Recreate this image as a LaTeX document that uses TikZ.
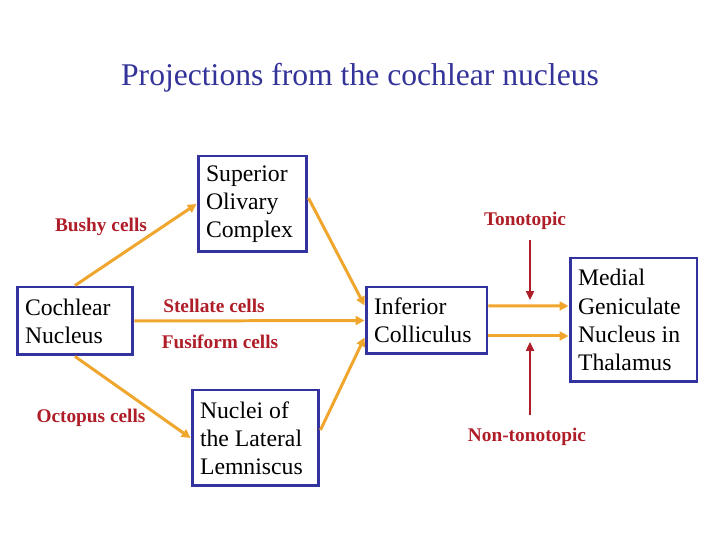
\documentclass[tikz,border=0pt]{standalone}
\usepackage{fontspec}
\setmainfont{Liberation Serif}
\usepackage{xcolor}
\usepackage{tikz}
\usetikzlibrary{arrows.meta,calc}
\definecolor{titleblue}{RGB}{51,51,153}
\definecolor{boxblue}{RGB}{51,51,160}
\definecolor{cellred}{RGB}{175,30,40}
\definecolor{pathorange}{RGB}{240,165,45}

\begin{document}
\begin{tikzpicture}[x=0.02cm,y=0.02cm,
    nucleus/.style={draw=boxblue,line width=1.7pt,align=flush left,inner xsep=0.16cm,
      font=\fontsize{13.5}{16}\selectfont},
    celltype/.style={text=cellred,font=\fontsize{11}{13}\selectfont\bfseries},
    proj/.style={draw=pathorange,line width=1.7pt,-{Triangle[length=5pt,width=5pt]}},
    topo/.style={draw=cellred,line width=1.1pt,-{Triangle[length=5pt,width=4.5pt]}}]
            \useasboundingbox (0,0) rectangle (720,540);
            \node[text=titleblue,font=\fontsize{18}{22}\selectfont] (title) at (360,462) {Projections from the cochlear nucleus};
            % nuclei
            \node[nucleus,text width=2cm,minimum height=1.36cm] (cn) at (75,219) {Cochlear\\Nucleus};
            \node[nucleus,text width=1.86cm,minimum height=1.92cm] (soc) at (252.5,336) {Superior\\Olivary\\Complex};
            \node[nucleus,text width=2.22cm,minimum height=1.92cm] (nll) at (255.5,102) {Nuclei of\\the Lateral\\Lemniscus};
            \node[nucleus,text width=2.1cm,minimum height=1.34cm] (ic) at (426.5,219.5) {Inferior\\Colliculus};
            \node[nucleus,text width=2.22cm,minimum height=2.48cm] (mgn) at (633.5,220) {Medial\\Geniculate\\Nucleus in\\Thalamus};
            % cell types
            \node[celltype] (bushy) at (101,313) {Bushy cells};
            \node[celltype] (stellate) at (214,234) {Stellate cells};
            \node[celltype] (fusiform) at (220,198) {Fusiform cells};
            \node[celltype] (octopus) at (91,122) {Octopus cells};
            \node[celltype] (tono) at (525,319) {Tonotopic};
            \node[celltype] (nontono) at (527,103) {Non-tonotopic};
            % projections
            \draw[proj] (cn.north) -- (soc.west);
            \draw[proj] (cn.east) -- (ic.west);
            \draw[proj] (cn.south) -- (nll.west);
            \draw[proj] ($(soc.east)+(0,6)$) -- ($(ic.west)+(0,15)$);
            \draw[proj] ($(nll.east)+(0,8)$) -- ($(ic.west)+(0,-17)$);
            \draw[proj] ($(ic.east)+(0,14.5)$) -- ($(mgn.west)+(0,14)$);
            \draw[proj] ($(ic.east)+(0,-15.5)$) -- ($(mgn.west)+(0,-16)$);
            \coordinate (tonoA) at (530,300);
            \coordinate (tonoB) at (530,240);
            \coordinate (nonA) at (530,125);
            \coordinate (nonB) at (530,198);
            \draw[topo] (tonoA) -- (tonoB);
            \draw[topo] (nonA) -- (nonB);
        \end{tikzpicture}
\end{document}
